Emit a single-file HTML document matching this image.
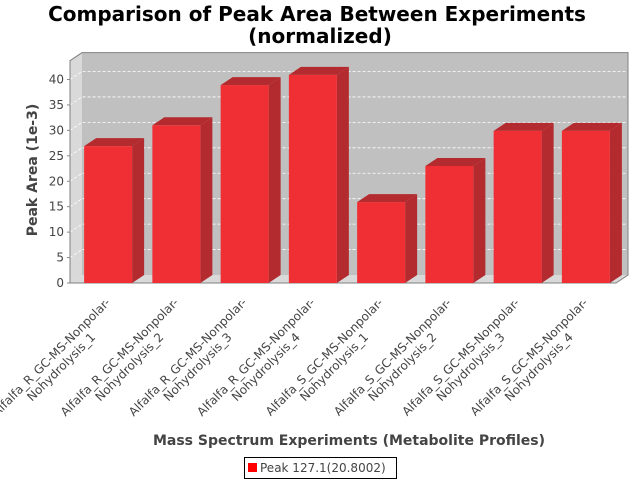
<!DOCTYPE html>
<html><head><meta charset="utf-8"><style>
body{margin:0;background:#fff}
svg{display:block;font-family:"DejaVu Sans","Liberation Sans",sans-serif}
</style></head><body>
<svg width="640" height="480" viewBox="0 0 640 480">
<text x="317" y="21" text-anchor="middle" font-size="20" font-weight="bold" fill="#000">Comparison of Peak Area Between Experiments</text>
<text x="320" y="43" text-anchor="middle" font-size="20" font-weight="bold" fill="#000">(normalized)</text>
<g id="plot"></g>
<text transform="translate(37,170) rotate(-90)" text-anchor="middle" font-size="14" font-weight="bold" fill="#444">Peak Area (1e-3)</text>
<text x="349" y="445" text-anchor="middle" font-size="14" font-weight="bold" fill="#444">Mass Spectrum Experiments (Metabolite Profiles)</text>
<g>
<rect x="244.5" y="457.5" width="152" height="21" fill="#fff" stroke="#000"/>
<rect x="248" y="463" width="9" height="9" fill="#ff0000"/>
<text x="260" y="472" font-size="12" fill="#444">Peak 127.1(20.8002)</text>
</g>
</svg>
<script>
const categories=["Alfalfa_R_GC-MS-Nonpolar-|Nohydrolysis_1","Alfalfa_R_GC-MS-Nonpolar-|Nohydrolysis_2","Alfalfa_R_GC-MS-Nonpolar-|Nohydrolysis_3","Alfalfa_R_GC-MS-Nonpolar-|Nohydrolysis_4","Alfalfa_S_GC-MS-Nonpolar-|Nohydrolysis_1","Alfalfa_S_GC-MS-Nonpolar-|Nohydrolysis_2","Alfalfa_S_GC-MS-Nonpolar-|Nohydrolysis_3","Alfalfa_S_GC-MS-Nonpolar-|Nohydrolysis_4"];
const values=[26.9,31.0,38.9,40.9,15.9,23.0,29.9,29.9];
const yTicks=[0,5,10,15,20,25,30,35,40];
const NS="http://www.w3.org/2000/svg";
const g=document.getElementById('plot');
const X0=70,X1=616,Y0=283,DX=12,DY=-8,YMAX=43.7;
const ppu=(283-79.5)/40;
function y(v){return Y0-v*ppu;}
const step=(X1-X0)/categories.length;
function xb(i){return X0+step*i+(step-48)/2+4;}
function el(t,a){const e=document.createElementNS(NS,t);for(const k in a)e.setAttribute(k,a[k]);g.appendChild(e);return e;}
const plotTop=y(YMAX);
let e;
e=el('polygon',{points:`${X0},${plotTop} ${X0+DX},${plotTop+DY} ${X0+DX},${Y0+DY} ${X0},${Y0}`,fill:'#d9d9d9'});


e=el('polygon',{points:`${X0},${Y0} ${X0+DX},${Y0+DY} ${X1+DX},${Y0+DY} ${X1},${Y0}`,fill:'#d9d9d9'});


e=el('rect',{x:X0+DX,y:plotTop+DY,width:X1-X0,height:Y0-plotTop,fill:'#c0c0c0'});


yTicks.forEach(v=>{
 if(v>0){
 const l=el('polyline',{points:`${X0},${y(v)} ${X0+DX},${y(v)+DY} ${X1+DX},${y(v)+DY}`,fill:'none',stroke:'#fff','stroke-width':0.8,'stroke-dasharray':'3,2'});
 
 }
 const tk=el('line',{x1:X0-3,y1:y(v),x2:X0,y2:y(v),stroke:'#888'});
 
 
 const t=el('text',{x:X0-6,y:y(v)+4,'text-anchor':'end','font-size':12,fill:'#444'});t.textContent=v;
 
 
});
e=el('polyline',{points:`${X0},${Y0} ${X0},${plotTop} ${X0+DX},${plotTop+DY} ${X1+DX},${plotTop+DY} ${X1+DX},${Y0+DY} ${X1},${Y0} ${X0},${Y0}`,fill:'none',stroke:'#808080'});


values.forEach((v,i)=>{
 const x=xb(i),w=48,yt=y(v);
 const s=el('polygon',{points:`${x+w},${yt} ${x+w+DX},${yt+DY} ${x+w+DX},${Y0+DY} ${x+w},${Y0}`,fill:'#b32b2e'});
 
 
 const tp=el('polygon',{points:`${x},${yt} ${x+DX},${yt+DY} ${x+w+DX},${yt+DY} ${x+w},${yt}`,fill:'#b32b2e'});
 
 
 const r=el('rect',{x:x,y:yt,width:w,height:Y0-yt,fill:'#ef2f33'});
 
 
 const parts=categories[i].split('|');
 const cx=x+w/2;
 const lg=el('g',{transform:`translate(${cx+4},${302}) rotate(-45)`});
 
 
 parts.forEach((p,j)=>{const t=document.createElementNS(NS,'text');t.setAttribute('x',-82);t.setAttribute('y',j*14);t.setAttribute('text-anchor','middle');t.setAttribute('font-size',12);t.setAttribute('fill','#444');t.textContent=p;
 
 
 lg.appendChild(t);});
});
</script>
</body></html>
